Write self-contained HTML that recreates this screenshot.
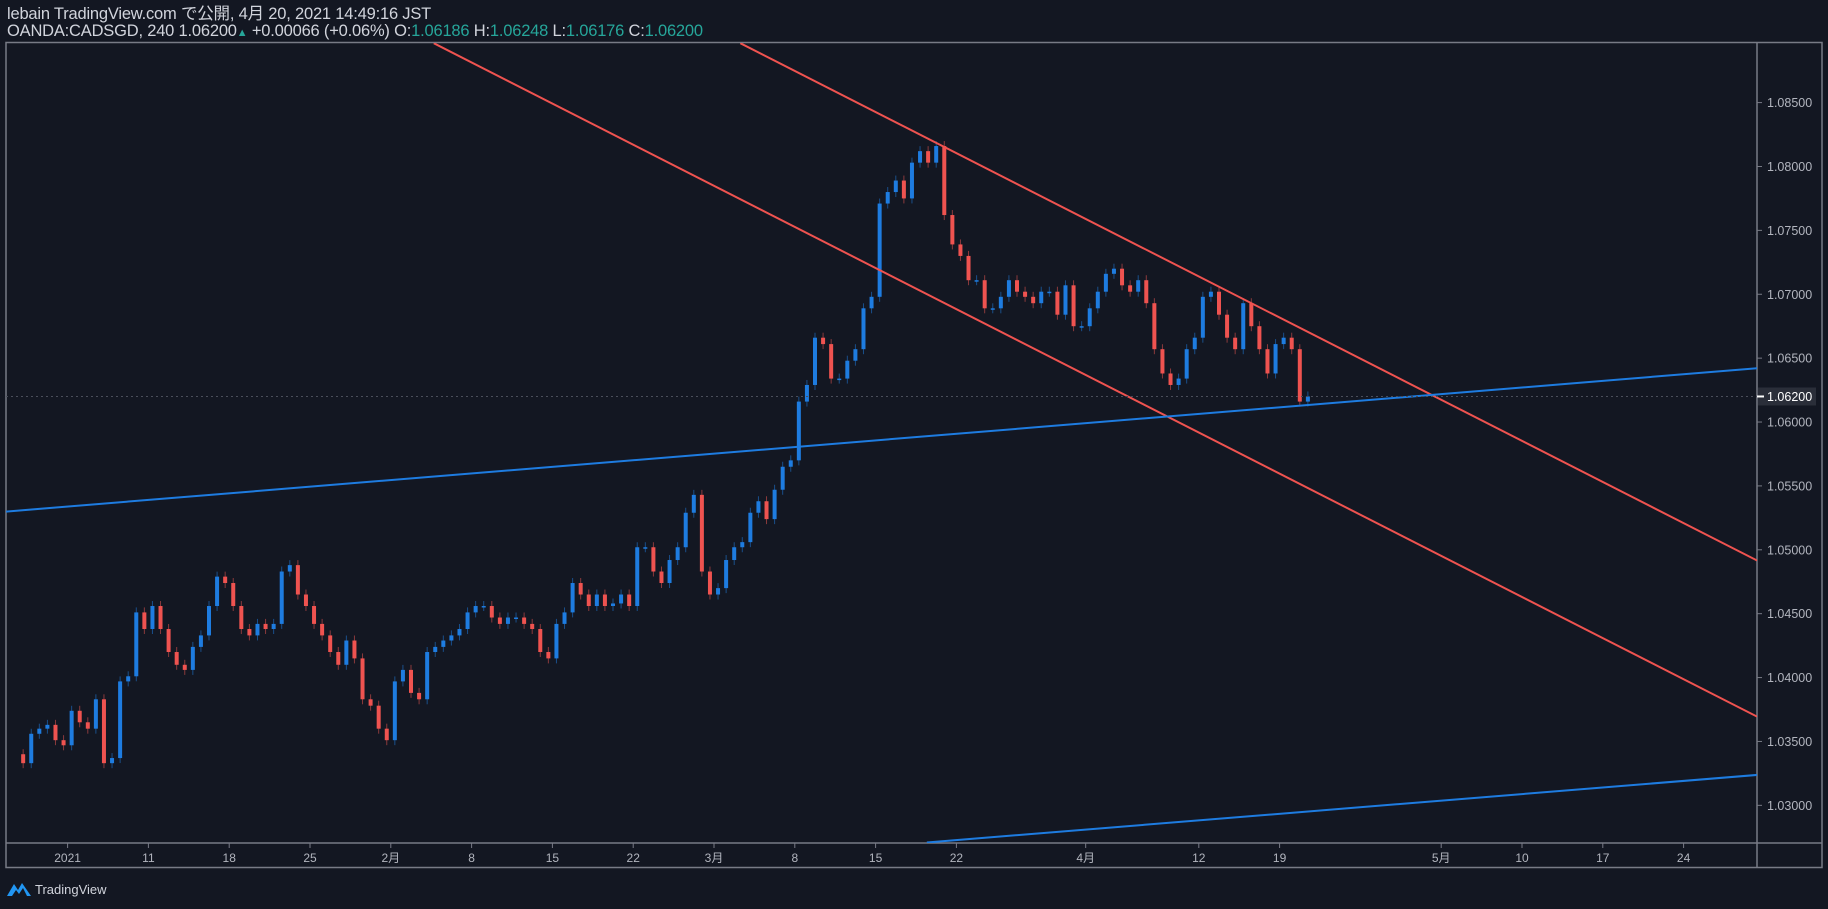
<!DOCTYPE html>
<html><head><meta charset="utf-8">
<style>
html,body{margin:0;padding:0;background:#131722;}
body{width:1828px;height:909px;overflow:hidden;position:relative;font-family:"Liberation Sans","Noto Sans CJK JP",sans-serif;color:#d1d4dc;}
.hdr{position:absolute;left:7px;font-size:16.5px;line-height:17px;white-space:nowrap;letter-spacing:-0.2px;}
.g{color:#26a69a}
</style></head><body>
<div class="hdr" style="top:6px">lebain TradingView.com で公開, 4月 20, 2021 14:49:16 JST</div>
<div class="hdr" style="top:23px">OANDA:CADSGD, 240 1.06200<span class="g" style="font-size:11px">▲</span> +0.00066 (+0.06%) O:<span class="g">1.06186</span> H:<span class="g">1.06248</span> L:<span class="g">1.06176</span> C:<span class="g">1.06200</span></div>
<svg id="chart" width="1828" height="909" style="position:absolute;left:0;top:0">
<defs><clipPath id="pc"><rect x="6" y="43" width="1751" height="800"/></clipPath></defs>
<rect x="6" y="42.5" width="1816" height="825" fill="none" stroke="#787b86" stroke-width="1.5"/>
<line x1="1757" y1="43" x2="1757" y2="867" stroke="#787b86" stroke-width="1.5"/>
<line x1="6" y1="843" x2="1822" y2="843" stroke="#787b86" stroke-width="1.5"/>
<g id="candles" clip-path="url(#pc)"></g>
<g id="drawings" clip-path="url(#pc)"></g>
<g id="yaxis"></g>
<g id="xaxis"></g>
</svg>
<div style="position:absolute;left:6px;top:881px;font-size:13px;color:#d1d4dc;display:flex;align-items:center">
<svg width="26" height="16" viewBox="0 0 26 16" style="margin-right:3px"><path d="M1 15 L8 3 L12 9 L16 2 L25 15 Z" fill="#2196f3"/><path d="M6 15 L10 9 L13 13 L17 7 L21 15Z" fill="#131722"/></svg>TradingView</div>
<script>
const closes=[1.0333,1.0356,1.0360,1.0363,1.0351,1.0347,
1.0374,1.0365,1.0360,1.0383,1.0333,1.0337,1.0397,1.0401,1.0451,1.0438,
1.0456,1.0438,1.0420,1.0410,1.0406,1.0424,1.0433,1.0456,1.0479,1.0474,
1.0456,1.0438,1.0433,1.0442,1.0438,1.0442,1.0483,1.0488,1.0465,1.0456,
1.0442,1.0433,1.0420,1.0410,1.0429,1.0415,1.0383,1.0378,1.0360,1.0351,
1.0397,1.0406,1.0388,1.0383,1.0420,1.0424,1.0429,1.0433,1.0438,1.0451,
1.0456,1.0456,1.0447,1.0442,1.0447,1.0447,1.0442,1.0438,1.0420,1.0415,
1.0442,1.0451,1.0474,1.0465,1.0456,1.0465,1.0456,1.0458,1.0465,1.0456,
1.0502,1.0502,1.0483,1.0474,1.0492,1.0502,1.0529,1.0543,1.0483,1.0465,
1.0470,1.0492,1.0502,1.0506,1.0529,1.0538,1.0524,1.0547,1.0565,1.0570,
1.0616,1.0629,1.0666,1.0661,1.0634,1.0634,1.0648,1.0657,1.0689,1.0698,
1.0771,1.0780,1.0789,1.0775,1.0803,1.0812,1.0803,1.0816,1.0762,1.0739,
1.0730,1.0711,1.0711,1.0689,1.0689,1.0698,1.0711,1.0702,1.0698,1.0693,
1.0702,1.0702,1.0684,1.0707,1.0675,1.0675,1.0689,1.0702,1.0716,1.0720,
1.0707,1.0702,1.0711,1.0693,1.0657,1.0638,1.0629,1.0634,1.0657,1.0666,
1.0698,1.0702,1.0684,1.0666,1.0657,1.0693,1.0675,1.0657,1.0638,1.0661,
1.0666,1.0657,1.0616,1.0620];
const firstOpen=1.0340;
const priceTicks=[1.085,1.080,1.075,1.070,1.065,1.060,1.055,1.050,1.045,1.040,1.035,1.030];
const timeLabels=["2021","11","18","25","2月","8","15","22","3月","8","15","22","4月","12","19","5月","10","17","24"];
const timeDays=[0,5,10,15,20,25,30,35,40,45,50,55,63,70,75,85,90,95,100];
const lastPrice=1.0620;
const redUpper=[41.63,1.08965,104.55,1.04916];
const redLower=[22.66,1.08965,104.55,1.03694];
const blueUpper=[-3.82,1.05299,104.55,1.06421];
const blueLower=[53.17,1.02709,104.55,1.03238];

const NS="http://www.w3.org/2000/svg";
function xDay(d){return 67.6+16.16*d;}
function yP(p){return 102.6+(1.085-p)*12777;}
function mk(tag,attrs,parent){const e=document.createElementNS(NS,tag);for(const k in attrs)e.setAttribute(k,attrs[k]);parent.appendChild(e);return e;}

const cg=document.getElementById('candles');
let prev=firstOpen;
closes.forEach((c,i)=>{
  const d=-3+(i+0.5)/2;
  const x=xDay(d);
  const up=c>=prev;
  const col=up?"#1e7ce0":"#ef5350";
  const top=yP(Math.max(c,prev)), bot=yP(Math.min(c,prev));
  const w=mk('line',{x1:x,x2:x,y1:top-5,y2:bot+5,stroke:up?"#1a4f8a":"#8a3a3c","stroke-width":1},cg);
  
  
  const r=mk('rect',{x:x-2,y:top,width:4,height:Math.max(1.5,bot-top),fill:col},cg);
  
  
  prev=c;
});

const dg=document.getElementById('drawings');
[[redUpper,"#ef5350","channel-upper-red"],[redLower,"#ef5350","channel-lower-red"],[blueUpper,"#1e7ce0","trendline-upper-blue"],[blueLower,"#1e7ce0","trendline-lower-blue"]].forEach(([l,col,name])=>{
  const e=mk('line',{x1:xDay(l[0]),y1:yP(l[1]),x2:xDay(l[2]),y2:yP(l[3]),stroke:col,"stroke-width":2},dg);
  
  
});
const pl=mk('line',{x1:6,x2:1757,y1:yP(lastPrice),y2:yP(lastPrice),stroke:"#4a4e5a","stroke-width":1,"stroke-dasharray":"2 3"},dg);



const ya=document.getElementById('yaxis');
priceTicks.forEach(p=>{
  const y=yP(p);
  mk('line',{x1:1757,x2:1762,y1:y,y2:y,stroke:"#787b86"},ya);
  const t=mk('text',{x:1767,y:y+4.5,fill:"#b2b5be","font-size":"12.5","font-family":"Liberation Sans, sans-serif"},ya);
  t.textContent=p.toFixed(5);
  
  
});
const ly=yP(lastPrice);
mk('rect',{x:1758,y:ly-9,width:58,height:18,fill:"#2a2e39"},ya);
mk('line',{x1:1757,x2:1764,y1:ly,y2:ly,stroke:"#ffffff","stroke-width":2},ya);
const lt=mk('text',{x:1767,y:ly+4.5,fill:"#ffffff","font-size":"12.5","font-family":"Liberation Sans, sans-serif"},ya);
lt.textContent=lastPrice.toFixed(5);



const xa=document.getElementById('xaxis');
timeLabels.forEach((s,i)=>{
  const x=xDay(timeDays[i]);
  mk('line',{x1:x,x2:x,y1:843,y2:848,stroke:"#787b86"},xa);
  const t=mk('text',{x:x,y:862,fill:"#b2b5be","font-size":"12","text-anchor":"middle","font-family":"Liberation Sans, Noto Sans CJK JP, sans-serif"},xa);
  t.textContent=s;
  
  
});
</script>
</body></html>
